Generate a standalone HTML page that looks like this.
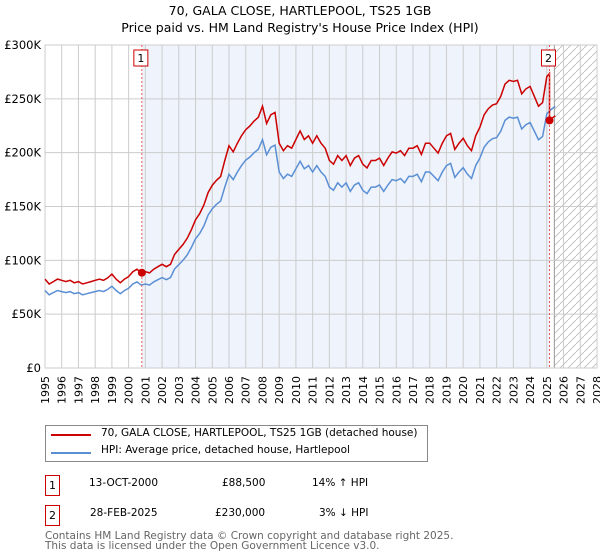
<!DOCTYPE html>
<html><head><meta charset="utf-8"><style>
body{margin:0;background:#fff;font-family:"DejaVu Sans","Liberation Sans",sans-serif;}
#wrap{position:relative;width:600px;height:560px;overflow:hidden;}
.t{position:absolute;font-size:12px;color:#000;white-space:nowrap;}
</style></head><body>
<div id="wrap">
<div class="t" style="left:0;width:600px;text-align:center;top:3px;font-size:12.5px;">70, GALA CLOSE, HARTLEPOOL, TS25 1GB</div>
<div class="t" style="left:0;width:600px;text-align:center;top:20px;font-size:12.5px;">Price paid vs. HM Land Registry's House Price Index (HPI)</div>
<svg id="chart" width="600" height="420" style="position:absolute;left:0;top:0"></svg>
<div style="position:absolute;left:45px;top:425px;width:381px;height:35px;border:1px solid #888;">
<div style="position:absolute;left:5px;top:8px;width:40px;height:2px;background:#cc0000"></div>
<div class="t" style="left:55px;top:1px;font-size:10.5px">70, GALA CLOSE, HARTLEPOOL, TS25 1GB (detached house)</div>
<div style="position:absolute;left:5px;top:26px;width:40px;height:2px;background:#5b8fd4"></div>
<div class="t" style="left:55px;top:18px;font-size:10.5px">HPI: Average price, detached house, Hartlepool</div>
</div>
<div style="position:absolute;left:45px;top:475px;width:13px;height:19px;border:1px solid #cc0000;font-size:11px;text-align:center;line-height:19px">1</div>
<div class="t" style="left:89px;top:477px;font-size:10.5px">13-OCT-2000</div>
<div class="t" style="left:222px;top:477px;font-size:10.5px">£88,500</div>
<div class="t" style="left:312px;top:477px;font-size:10.5px">14% ↑ HPI</div>
<div style="position:absolute;left:45px;top:505px;width:13px;height:19px;border:1px solid #cc0000;font-size:11px;text-align:center;line-height:19px">2</div>
<div class="t" style="left:90px;top:507px;font-size:10.5px">28-FEB-2025</div>
<div class="t" style="left:215px;top:507px;font-size:10.5px">£230,000</div>
<div class="t" style="left:319px;top:507px;font-size:10.5px">3% ↓ HPI</div>
<div class="t" style="left:45px;top:531px;font-size:10.5px;color:#666;line-height:10px">Contains HM Land Registry data © Crown copyright and database right 2025.<br>This data is licensed under the Open Government Licence v3.0.</div>
</div>
<script>
const yearTicks=[1995,1996,1997,1998,1999,2000,2001,2002,2003,2004,2005,2006,2007,2008,2009,2010,2011,2012,2013,2014,2015,2016,2017,2018,2019,2020,2021,2022,2023,2024,2025,2026,2027,2028];
const yTicks=[0,50,100,150,200,250,300];
const yTickLabels=["£0","£50K","£100K","£150K","£200K","£250K","£300K"];
const hpiStart=1995;
const hpiValues=[72,68,70,72,71,70,71,69,70,68,69,70,71,72,71,73,76,72,69,72,74,78,80,77,78,77,80,82,84,82,84,92,96,100,105,112,120,125,132,142,148,152,155,168,180,175,182,188,193,196,200,203,212,198,205,207,182,176,180,178,185,192,185,188,182,188,182,178,168,165,172,168,172,164,170,172,165,162,168,168,170,164,170,175,174,176,172,178,178,180,173,182,182,178,174,182,188,190,177,182,186,180,176,188,195,205,210,213,214,220,230,233,232,233,222,226,228,220,212,215,236,240,243];
const saleDates=[2000.79,2025.16];
const salePrices=[88.5,230];
const forecastStart=2025.45;
const X0=45,X1=597,Y0=368,Y1=45;
const sx=t=>X0+(t-1995)*(X1-X0)/33;
const sy=v=>Y0-v*(Y0-Y1)/300;
const svg=document.getElementById('chart');
const NS='http://www.w3.org/2000/svg';
const FF='DejaVu Sans, Liberation Sans, sans-serif';
function mk(tag,attrs){const e=document.createElementNS(NS,tag);for(const k in attrs)e.setAttribute(k,attrs[k]);svg.appendChild(e);return e;}
let d=mk('defs',{});
d.innerHTML='<pattern id="hatch" width="8" height="8" patternUnits="userSpaceOnUse"><path d="M0,8 L8,0" stroke="#bbb" stroke-width="0.8"/></pattern>';
let sh=mk('rect',{x:sx(saleDates[0]),y:Y1,width:sx(saleDates[1])-sx(saleDates[0]),height:Y0-Y1,fill:'#eef3fc'});

const hs=forecastStart;
let ht=mk('rect',{x:sx(hs),y:Y1,width:X1-sx(hs),height:Y0-Y1,fill:'url(#hatch)'});

mk('line',{x1:sx(hs),x2:sx(hs),y1:Y1,y2:Y0,stroke:'#999','stroke-width':1});
yearTicks.forEach(y=>{const l=mk('line',{x1:sx(y),x2:sx(y),y1:Y1,y2:Y0,stroke:'#ccc','stroke-width':1});

const t=mk('text',{x:0,y:0,transform:`translate(${sx(y)+4},${Y0+36}) rotate(-90)`,'font-size':11,'font-family':FF});t.textContent=y;
});
yTicks.forEach((v,i)=>{const l=mk('line',{x1:X0,x2:X1,y1:sy(v),y2:sy(v),stroke:'#ccc','stroke-width':1});

const t=mk('text',{x:X0-4,y:sy(v)+4,'text-anchor':'end','font-size':11.5,'font-family':FF});t.textContent=yTickLabels[i];
});
mk('rect',{x:X0,y:Y1,width:X1-X0,height:Y0-Y1,fill:'none',stroke:'#ccc'});
const tAt=i=>hpiStart+i/4;
function hpiAt(t){const f=(t-hpiStart)*4;const i=Math.max(0,Math.min(hpiValues.length-2,Math.floor(f)));const r=f-i;return hpiValues[i]*(1-r)+hpiValues[i+1]*r;}
const r1=salePrices[0]/hpiAt(saleDates[0]),r2=salePrices[1]/hpiAt(saleDates[1]);
let bp='',rp='';
hpiValues.forEach((v,i)=>{const t=tAt(i);bp+=(i?'L':'M')+sx(t).toFixed(1)+','+sy(v).toFixed(1);
if(t<saleDates[1])rp+=(i?'L':'M')+sx(t).toFixed(1)+','+sy(v*r1).toFixed(1);});
rp+='L'+sx(saleDates[1]).toFixed(1)+','+sy(hpiAt(saleDates[1])*r1).toFixed(1);
rp+='L'+sx(saleDates[1]).toFixed(1)+','+sy(salePrices[1]).toFixed(1);
hpiValues.forEach((v,i)=>{const t=tAt(i);if(t>saleDates[1])rp+='L'+sx(t).toFixed(1)+','+sy(v*r2).toFixed(1);});
let b=mk('path',{d:bp,fill:'none',stroke:'#5b8fd4','stroke-width':1.5});

let r=mk('path',{d:rp,fill:'none',stroke:'#cc0000','stroke-width':1.5});

saleDates.forEach((t,i)=>{const l=mk('line',{x1:sx(t),x2:sx(t),y1:Y1,y2:Y0,stroke:'#e55','stroke-width':1,'stroke-dasharray':'2,2'});

const c=mk('circle',{cx:sx(t),cy:sy(salePrices[i]),r:4,fill:'#cc0000'});

const bx=mk('rect',{x:sx(t)-8,y:50,width:14,height:16,fill:'#fff',stroke:'#cc0000'});

const tx=mk('text',{x:sx(t)-1,y:62,'text-anchor':'middle','font-size':11,'font-family':FF});tx.textContent=i+1;
});
</script>
</body></html>
